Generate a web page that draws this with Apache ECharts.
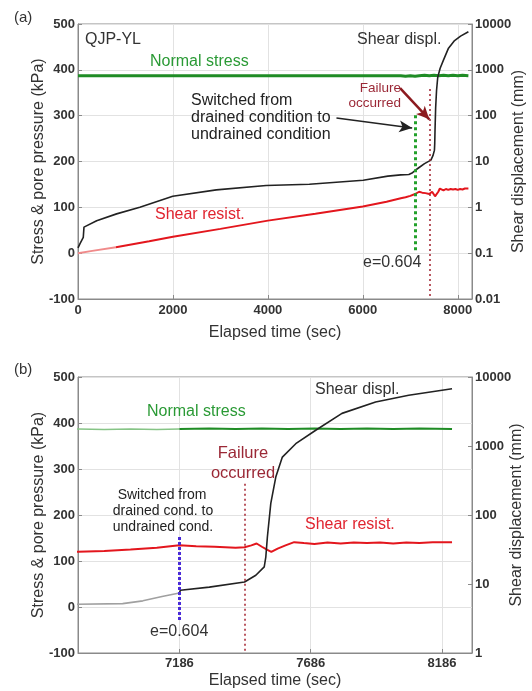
<!DOCTYPE html>
<html><head><meta charset="utf-8">
<script src="https://cdn.jsdelivr.net/npm/echarts@6/dist/echarts.min.js"></script>
<style>html,body{margin:0;padding:0;background:#fff}#c{width:532px;height:691px}</style>
</head><body><div id="c"></div>
<script>
// ---- data (elapsed time in sec) ----
const dispTime = [0, 40, 111, 126, 393, 813, 1303, 1996, 2914, 3964, 4874, 6008, 6527, 6800, 6970, 7047, 7120, 7186, 7190, 7300, 7434, 7477, 7509, 7515, 7521, 7534, 7553, 7578, 7629, 7705, 7805, 7933, 8059, 8224];
const dispMm   = [0.13, 0.16, 0.22, 0.37, 0.51, 0.72, 1.0, 1.74, 2.4, 3.0, 3.2, 3.9, 4.8, 5.1, 5.2, 5.7, 6.6, 7.4, 8.1, 9.0, 10.7, 13.4, 17.7, 24.6, 48, 147, 355, 690, 1080, 1690, 2970, 4350, 5430, 6770];

const resistTime = [0, 300, 800, 1500, 2000, 3000, 4000, 5000, 6000, 6500, 6800, 6900, 7000, 7100, 7186, 7250, 7320, 7400, 7434, 7460, 7480, 7500, 7521, 7536, 7560, 7590, 7623, 7660, 7700, 7750, 7800, 7850, 7900, 7950, 8000, 8050, 8100, 8150, 8224];
const resistKPa  = [0, 5, 13, 26, 36, 53, 71, 86, 102, 112, 120, 122, 125, 129, 134, 132, 131, 129, 130, 134, 138, 131, 124, 120, 127, 134, 141, 139, 137, 140, 138, 140, 139, 140, 138, 140, 139, 141, 141];

const normalTime = [0, 6800, 6900, 7000, 7100, 7186, 7300, 7400, 7500, 7600, 7700, 7800, 7900, 8000, 8100, 8224];
const normalKPa  = [387, 387, 386, 387, 386, 387, 388, 387, 388, 387, 388, 387, 388, 387, 388, 387];

const stressTicks = [-100, 0, 100, 200, 300, 400, 500];
const timeTicksB  = [7186, 7686, 8186];

const switchTimeA = 7100, failTimeA = 7410;
const switchTimeB = 7186, failTimeB = 7433;

// ---- helpers ----
function pairs(ts, vs, lo, hi) {
  const out = [];
  for (let i = 0; i < ts.length; i++) if (ts[i] >= lo && ts[i] <= hi) out.push([ts[i], vs[i]]);
  return out;
}
const FONT = 'Liberation Sans, Arial, Helvetica, sans-serif';
const AX = '#8a8a8a', GRID = '#e2e2e2', TXT = '#333';
const GREEN = '#1f8c25', RED = '#e3161d', DRED = '#9b2836';
const plain = v => String(parseFloat(Number(v).toPrecision(6)));

function xAx(gi, extra) {
  return Object.assign({
    type: 'value', gridIndex: gi,
    name: 'Elapsed time (sec)', nameLocation: 'middle', nameMoveOverlap: false,
    nameTextStyle: {fontFamily: FONT, fontSize: 16, color: TXT},
    axisLine: {show: true, onZero: false, lineStyle: {color: AX}},
    axisTick: {show: true, inside: true, length: 4, lineStyle: {color: AX}},
    axisLabel: {fontFamily: FONT, fontSize: 13, fontWeight: 'bold', color: TXT, margin: 5, showMaxLabel: false, formatter: plain},
    splitLine: {show: true, lineStyle: {color: GRID}}
  }, extra);
}
function yLeft(gi, gap) {
  return {
    type: 'value', gridIndex: gi, position: 'left', min: -100, max: 500, interval: 100,
    name: 'Stress & pore pressure (kPa)', nameLocation: 'middle', nameGap: gap, nameMoveOverlap: false,
    nameTextStyle: {fontFamily: FONT, fontSize: 16, color: TXT},
    axisLine: {show: true, onZero: false, lineStyle: {color: AX}},
    axisTick: {show: true, inside: true, length: 4, lineStyle: {color: AX}},
    axisLabel: {fontFamily: FONT, fontSize: 13, fontWeight: 'bold', color: TXT, margin: 3, formatter: plain},
    splitLine: {show: true, lineStyle: {color: GRID}}
  };
}
function yRight(gi, mn, mx, gap) {
  return {
    type: 'log', logBase: 10, gridIndex: gi, position: 'right', min: mn, max: mx,
    name: 'Shear displacement (mm)', nameLocation: 'middle', nameGap: gap, nameMoveOverlap: false,
    nameTextStyle: {fontFamily: FONT, fontSize: 16, color: TXT},
    axisLine: {show: true, onZero: false, lineStyle: {color: AX}},
    axisTick: {show: true, inside: true, length: 4, lineStyle: {color: AX}},
    axisLabel: {fontFamily: FONT, fontSize: 13, fontWeight: 'bold', color: TXT, margin: 3, formatter: plain},
    splitLine: {show: false}
  };
}
function line(name, xi, yi, data, color, width, extra) {
  return Object.assign({
    name, type: 'line', xAxisIndex: xi, yAxisIndex: yi, data,
    showSymbol: false, symbol: 'none', smooth: false, clip: true,
    lineStyle: {color, width}, silent: true
  }, extra || {});
}
function vseg(t, y0, y1, color, width, type) {
  return [{coord: [t, y0], lineStyle: {color, width, type}}, {coord: [t, y1]}];
}
function txt(x, y, text, size, color, align, extra) {
  return {type: 'text', x, y, z: 100, silent: true,
    style: Object.assign({text, fontFamily: FONT, fontSize: size, fill: color,
      textAlign: align || 'left', textVerticalAlign: 'middle'}, extra || {})};
}

const chart = echarts.init(document.getElementById('c'), null, {renderer: 'canvas'});
chart.setOption({
  animation: false,
  backgroundColor: '#fff',
  grid: [
    {left: 78, top: 24, width: 394, height: 275, show: true, borderColor: AX, borderWidth: 1, containLabel: false, outerBoundsMode: 'none'},
    {left: 78, top: 377, width: 394, height: 276, show: true, borderColor: AX, borderWidth: 1, containLabel: false, outerBoundsMode: 'none'}
  ],
  xAxis: [
    xAx(0, {min: 0, max: 8300, interval: 2000, nameGap: 26}),
    xAx(1, {min: 6800, max: 8300, nameGap: 20,
      axisTick: {show: true, inside: true, length: 4, lineStyle: {color: AX}, customValues: timeTicksB},
      axisLabel: {fontFamily: FONT, fontSize: 13, fontWeight: 'bold', color: TXT, margin: 4, customValues: timeTicksB, formatter: plain}})
  ],
  yAxis: [
    yLeft(0, 31), yRight(0, 0.01, 10000, 39),
    yLeft(1, 31), yRight(1, 1, 10000, 37)
  ],
  series: [
    // ---- panel (a) ----
    line('Normal stress', 0, 0, pairs(normalTime, normalKPa, 0, 1e9), GREEN, 3, {
      markLine: {silent: true, symbol: ['none', 'arrow'], symbolSize: [9, 13], label: {show: false},
        data: [
          [{coord: [5445, 295], lineStyle: {color: '#222', width: 1.5, type: 'solid'}}, {coord: [7040, 273]}],
          [{coord: [6785, 360], lineStyle: {color: '#8c1a1f', width: 2.5, type: 'solid'}}, {coord: [7400, 292]}]
        ]}
    }),
    line('Shear resist. start', 0, 0, pairs(resistTime, resistKPa, 0, 800), '#f08a8a', 2),
    line('Shear resist.', 0, 0, pairs(resistTime, resistKPa, 800, 1e9), RED, 2, {
      markLine: {silent: true, symbol: ['none', 'none'], label: {show: false},
        data: [
          vseg(switchTimeA, 301, 3, '#22a02a', 3, [3, 3]),
          vseg(failTimeA, 358, -100, '#a3202e', 1.5, [2, 3])
        ]}
    }),
    line('Shear displ.', 0, 1, pairs(dispTime, dispMm, 0, 1e9), '#222', 1.6),
    // ---- panel (b) ----
    line('Normal stress drained', 1, 2, pairs(normalTime, normalKPa, 0, switchTimeB), '#86c486', 1.5),
    line('Normal stress undrained', 1, 2, pairs(normalTime, normalKPa, switchTimeB, 1e9), GREEN, 2),
    line('Shear resist. b', 1, 2, pairs(resistTime, resistKPa, 0, 1e9), RED, 2, {
      markLine: {silent: true, symbol: ['none', 'none'], label: {show: false},
        data: [
          vseg(switchTimeB, 152, -30, '#4a2bd8', 3, [3, 2]),
          vseg(failTimeB, 268, -100, '#a3202e', 1.5, [2, 3])
        ]}
    }),
    line('Shear displ. drained', 1, 3, pairs(dispTime, dispMm, 0, switchTimeB), '#a0a0a0', 1.6),
    line('Shear displ. undrained', 1, 3, pairs(dispTime, dispMm, switchTimeB, 1e9), '#222', 1.6)
  ],
  graphic: [
    // panel (a)
    txt(14, 18, '(a)', 15, TXT),
    txt(85, 40, 'QJP-YL', 16, TXT),
    txt(150, 62, 'Normal stress', 16, '#2a9a35'),
    txt(357, 40, 'Shear displ.', 16, TXT),
    txt(401, 88, 'Failure', 13.5, DRED, 'right'),
    txt(401, 103, 'occurred', 13.5, DRED, 'right'),
    txt(191, 101, 'Switched from', 16, '#222'),
    txt(191, 118, 'drained condition to', 16, '#222'),
    txt(191, 135, 'undrained condition', 16, '#222'),
    txt(155, 215, 'Shear resist.', 16, '#e0242f'),
    txt(363, 263, 'e=0.604', 16, TXT),
    // panel (b)
    txt(14, 370, '(b)', 15, TXT),
    txt(147, 412, 'Normal stress', 16, '#2a9a35'),
    txt(315, 390, 'Shear displ.', 16, TXT),
    txt(243, 453, 'Failure', 16.5, DRED, 'center'),
    txt(243, 473, 'occurred', 16.5, DRED, 'center'),
    txt(162, 495, 'Switched from', 14, '#222', 'center'),
    txt(163, 511, 'drained cond. to', 14, '#222', 'center'),
    txt(163, 527, 'undrained cond.', 14, '#222', 'center'),
    txt(150, 632, 'e=0.604', 16, TXT),
    txt(305, 525, 'Shear resist.', 16, '#e0242f')
  ]
});
</script>
</body></html>
